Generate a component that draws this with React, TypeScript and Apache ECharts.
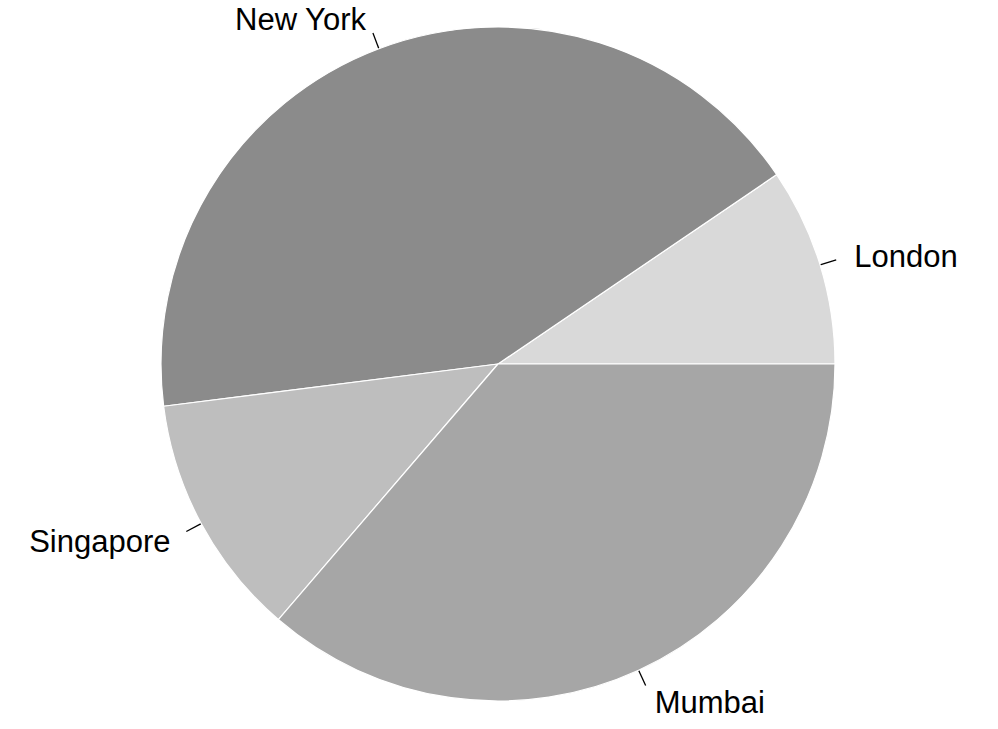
import React, { useEffect, useRef } from "react";
import * as echarts from "echarts";

const categories = ["London", "New York", "Singapore", "Mumbai"];
const values = [9.5, 42.5, 11.7, 36.3];
const colors = ["#D9D9D9", "#8B8B8B", "#BEBEBE", "#A6A6A6"];

const CX = 498;
const CY = 364;
const R = 337;

export default function App() {
  const ref = useRef<HTMLDivElement>(null);
  useEffect(() => {
    if (!ref.current) return;
    const chart = echarts.init(ref.current, null, { renderer: "svg" });
    const total = values.reduce((a, b) => a + b, 0);
    const mids: number[] = [];
    let acc = 0;
    values.forEach((v) => {
      mids.push(((acc + v / 2) / total) * Math.PI * 2);
      acc += v;
    });
    chart.setOption({
      animation: false,
      backgroundColor: "#FFFFFF",
      series: [
        {
          type: "pie",
          center: [CX, CY],
          radius: [0, R],
          startAngle: 0,
          clockwise: false,
          avoidLabelOverlap: false,
          data: categories.map((c, i) => ({
            name: c,
            value: values[i],
            itemStyle: { color: colors[i] },
          })),
          itemStyle: { borderColor: "#FFFFFF", borderWidth: 1.2 },
          label: {
            show: true,
            position: "outside",
            color: "#000000",
            fontFamily: "Liberation Sans, Arial, sans-serif",
            fontSize: 31,
            formatter: "{b}",
          },
          labelLine: {
            show: true,
            length: 17,
            length2: 0,
            lineStyle: { color: "#000000", width: 1.3 },
          },
          emphasis: { disabled: true },
          labelLayout: (params: any) => {
            const a = mids[params.dataIndex];
            const c = Math.cos(a);
            const s = Math.sin(a);
            const x0 = CX + R * c;
            const y0 = CY - R * s;
            const x1 = CX + 1.05 * R * c;
            const y1 = CY - 1.05 * R * s;
            const tx = CX + 1.1 * R * c + (c < 0 ? -1 : 2);
            const ty = CY - 1.1 * R * s + 2;
            return {
              x: tx,
              y: ty,
              align: c < 0 ? "right" : "left",
              verticalAlign: "middle",
              labelLinePoints: [
                [x0, y0],
                [x1, y1],
                [x1, y1],
              ],
            };
          },
        },
      ],
    });
    return () => chart.dispose();
  }, []);
  return (
    <div
      ref={ref}
      style={{ position: "absolute", left: 0, top: 0, width: 998, height: 729 }}
    />
  );
}
